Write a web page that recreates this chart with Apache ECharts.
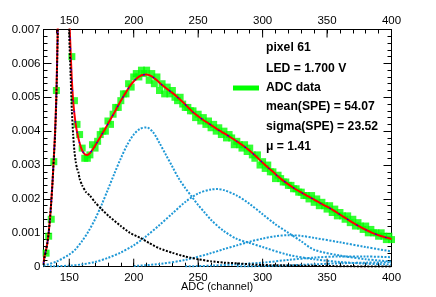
<!DOCTYPE html>
<html><head><meta charset="utf-8">
<script src="https://cdn.jsdelivr.net/npm/echarts@6/dist/echarts.min.js"></script>
<style>html,body{margin:0;padding:0;background:#fff}#c{width:436px;height:297px}</style>
</head><body><div id="c"></div>
<script>
// ---- data ----
const xTickLabels = [150, 200, 250, 300, 350, 400];
const xTitle = 'ADC (channel)';
const adcX = [132,134,136,138,140,142,144,146,148,150,152,154,156,158,160,162,164,166,168,170,172,174,176,178,180,182,184,186,188,190,192,194,196,198,200,202,204,206,208,210,212,214,216,218,220,222,224,226,228,230,232,234,236,238,240,242,244,246,248,250,252,254,256,258,260,262,264,266,268,270,272,274,276,278,280,282,284,286,288,290,292,294,296,298,300,302,304,306,308,310,312,314,316,318,320,322,324,326,328,330,332,334,336,338,340,342,344,346,348,350,352,354,356,358,360,362,364,366,368,370,372,374,376,378,380,382,384,386,388,390,392,394,396,398,400];
const adcY = [0.0004,0.0009,0.0014,0.0031,0.0052,0.0095,0.016,0.018,0.013,0.0075,0.0062,0.0049,0.0042,0.0039,0.0035,0.0032,0.0032,0.0033,0.0036,0.0035,0.0037,0.0039,0.0040,0.0040,0.0043,0.0042,0.0045,0.0047,0.0047,0.0049,0.0051,0.0051,0.0054,0.0053,0.0056,0.0057,0.0056,0.0058,0.0057,0.0058,0.0055,0.0057,0.0054,0.0056,0.0052,0.0054,0.0051,0.0053,0.0051,0.0052,0.0050,0.0049,0.0050,0.0048,0.0047,0.0047,0.0046,0.0046,0.0044,0.0045,0.0043,0.0044,0.0042,0.0043,0.0041,0.0042,0.0040,0.0041,0.0039,0.0040,0.0038,0.0039,0.0038,0.0036,0.0037,0.0036,0.0035,0.0036,0.0034,0.0035,0.0033,0.0032,0.0033,0.0030,0.0031,0.0029,0.0030,0.0028,0.0028,0.0026,0.0027,0.0026,0.0025,0.0025,0.0024,0.0024,0.0023,0.0023,0.0022,0.0022,0.0021,0.0021,0.0020,0.0021,0.0019,0.0020,0.0018,0.0019,0.0018,0.0017,0.0018,0.0016,0.0017,0.0015,0.0016,0.0015,0.0014,0.0015,0.0013,0.0014,0.0012,0.0013,0.0012,0.0011,0.0012,0.0010,0.0011,0.0010,0.0010,0.0009,0.0010,0.0009,0.0008,0.0009,0.0008];

const fitX = [130,131,132,133,134,135,136,137,138,139,140,141,142,143,145,147,148,149,150,151,152,153,154,155,156,158,160,162,164,166,168,170,174,178,182,186,190,194,198,202,206,210,214,218,222,226,230,234,238,242,246,250,254,258,262,266,270,275,280,285,290,295,300,305,310,315,320,325,330,335,340,345,350,355,360,365,370,375,380,385,390,395,400];
const fitY = [0.0001,0.00035,0.0005,0.0007,0.001,0.0014,0.0019,0.0025,0.0032,0.004,0.0051,0.0069,0.0091,0.013,0.02,0.018,0.0135,0.01,0.0074,0.0064,0.0055,0.0049,0.0045,0.0042,0.00398,0.00365,0.00343,0.00332,0.0033,0.00335,0.00345,0.00357,0.00382,0.00408,0.00435,0.00462,0.0049,0.00515,0.00538,0.00555,0.00565,0.00567,0.00562,0.0055,0.00536,0.00524,0.00513,0.005,0.00486,0.00471,0.00456,0.00444,0.00433,0.00423,0.00413,0.00403,0.00394,0.00382,0.0037,0.00357,0.00342,0.00325,0.00307,0.0029,0.00273,0.00257,0.00243,0.0023,0.00219,0.00208,0.00198,0.00187,0.00177,0.00166,0.00154,0.00142,0.0013,0.00119,0.00109,0.001,0.00093,0.00087,0.00082];

const pedX = [130,131,132,133,134,135,136,137,138,139,140,141,142,143,145,147,148,149,150,151,152,153,154,155,156,157,158,160,163,166,170,175,181,190,197,205,212,220,230,240,250,260,270,280,290,300,315,330,350,370,400];
const pedY = [0.00005,0.0003,0.0005,0.0007,0.001,0.0014,0.0019,0.0025,0.0032,0.0039,0.005,0.0068,0.009,0.013,0.02,0.018,0.013,0.0095,0.0068,0.0057,0.0046,0.0039,0.0034,0.0031,0.0029,0.0028,0.0026,0.0024,0.0022,0.0021,0.0019,0.0017,0.00148,0.0012,0.001,0.00085,0.0007,0.00054,0.00041,0.0003,0.00022,0.00016,0.00012,0.0001,0.00007,0.00005,0.00004,0.00003,0.00002,0.00001,0.000005];

const pe1X = [130,140,150,155,160,165,170,175,180,185,190,195,200,205,210,215,220,225,230,235,240,245,250,255,260,270,280,290,300,320,340,360,380,400];
const pe1Y = [0.00003,0.00015,0.00036,0.00052,0.00076,0.00105,0.0014,0.00182,0.00228,0.00275,0.0032,0.0036,0.0039,0.00407,0.00411,0.00397,0.00365,0.0033,0.00295,0.0026,0.00232,0.00207,0.00182,0.0016,0.00138,0.00105,0.00082,0.0007,0.00058,0.00035,0.00022,0.00014,0.00009,0.00006];
const pe2X = [135,150,160,170,180,190,200,210,220,230,240,250,260,265,270,280,290,300,310,320,330,340,360,380,400];
const pe2Y = [0.00001,0.00003,0.00007,0.00014,0.00026,0.00042,0.00063,0.00091,0.00123,0.00157,0.00191,0.00216,0.00228,0.00229,0.00226,0.0021,0.00185,0.00155,0.00125,0.001,0.00075,0.0005,0.00033,0.00022,0.00015];
const pe3X = [200,220,240,260,270,280,290,300,310,320,330,340,360,380,400];
const pe3Y = [0.00002,0.00008,0.0002,0.0004,0.00052,0.00063,0.00074,0.00083,0.0009,0.00093,0.00091,0.00085,0.00072,0.00058,0.00045];
const pe4X = [240,260,280,300,320,340,360,380,400];
const pe4Y = [0.00001,0.00003,0.00007,0.00012,0.0002,0.00027,0.0003,0.0003,0.00028];
const pe5X = [280,300,320,340,360,380,400];
const pe5Y = [0.00001,0.00002,0.00004,0.00007,0.0001,0.00012,0.00013];

const legendLines = ['pixel 61', 'LED = 1.700 V', 'ADC data', 'mean(SPE) = 54.07', 'sigma(SPE) = 23.52', 'μ = 1.41'];

// ---- helpers ----
const pairs = (xs, ys) => xs.map((x, i) => [x, ys[i]]);
const cyan = '#1f98d6';
const cyanSeries = (xs, ys) => ({
  type: 'line', data: pairs(xs, ys), showSymbol: false, smooth: 0.3, z: 3,
  lineStyle: { color: cyan, width: 2, type: [2, 1.5] }
});
const FONT = 'Liberation Sans, Arial, Helvetica, sans-serif';
const YMIN = 0, YMAX = 0.007;

const chart = echarts.init(document.getElementById('c'), null, { renderer: 'canvas' });
const xAxisBase = {
  type: 'value', min: 130, max: 400, interval: 10,
  axisLine: { show: true, onZero: false, lineStyle: { color: '#000', width: 1 } },
  axisTick: { show: true, inside: true, length: 4, lineStyle: { color: '#000', width: 1 } },
  splitLine: { show: false },
  axisLabel: {
    color: '#000', fontSize: 11.5, fontFamily: FONT,
    formatter: v => (Math.abs(v % 50) < 1e-6 ? String(Math.round(v)) : '')
  }
};
const yAxisBase = {
  type: 'value', min: YMIN, max: YMAX, interval: 0.001,
  axisLine: { show: true, onZero: false, lineStyle: { color: '#000', width: 1 } },
  axisTick: { show: true, inside: true, length: 8, lineStyle: { color: '#000', width: 1 } },
  minorTick: { show: true, splitNumber: 5, length: 4, lineStyle: { color: '#000', width: 1 } },
  splitLine: { show: false }, minorSplitLine: { show: false }
};

const graphics = [];
const legendY = [48, 69, 88, 107, 127, 147];
legendLines.forEach((t, i) => {
  graphics.push({ type: 'text', x: 266, y: legendY[i], z: 100,
    style: { text: t, fill: '#000', font: 'bold 12.2px ' + FONT, verticalAlign: 'middle', align: 'left' } });
});
graphics.push({ type: 'line', z: 100, shape: { x1: 233, y1: 88, x2: 259, y2: 88 }, style: { stroke: '#00ff00', lineWidth: 5 } });
graphics.push({ type: 'text', x: 217, y: 286.5, z: 100,
  style: { text: xTitle, fill: '#000', font: '11px ' + FONT, verticalAlign: 'middle', align: 'center' } });

chart.setOption({
  animation: false,
  backgroundColor: '#fff',
  grid: { left: 43.5, right: 44.5, top: 29.5, bottom: 30.3, containLabel: false, outerBoundsMode: 'none' },
  xAxis: [
    Object.assign({}, xAxisBase, { position: 'bottom',
      axisLabel: Object.assign({}, xAxisBase.axisLabel, { margin: 5 }) }),
    Object.assign({}, xAxisBase, { position: 'top', axisLabel: Object.assign({}, xAxisBase.axisLabel, { margin: 3 }) })
  ],
  yAxis: [
    Object.assign({}, yAxisBase, { position: 'left', axisLabel: { color: '#000', fontSize: 11.5, fontFamily: FONT, margin: 3,
      formatter: v => (v === 0 ? '0' : v.toFixed(3)) } }),
    Object.assign({}, yAxisBase, { position: 'right', axisLabel: { show: false } })
  ],
  graphic: graphics,
  series: [
    { type: 'scatter', data: pairs(adcX, adcY), symbol: 'rect', symbolSize: 7, z: 2,
      itemStyle: { color: '#00ff00' }, clip: true },
    cyanSeries(pe1X, pe1Y),
    cyanSeries(pe2X, pe2Y),
    cyanSeries(pe3X, pe3Y),
    cyanSeries(pe4X, pe4Y),
    cyanSeries(pe5X, pe5Y),
    { type: 'line', data: pairs(fitX, fitY), showSymbol: false, smooth: 0.2, z: 4, clip: true,
      lineStyle: { color: '#ff0000', width: 2 } },
    { type: 'line', data: pairs(fitX, fitY), showSymbol: false, smooth: 0.2, z: 5, clip: true,
      lineStyle: { color: '#0000ff', width: 1.2, type: [1.5, 9] } },
    { type: 'line', data: pairs(pedX, pedY), showSymbol: false, smooth: 0.2, z: 6, clip: true,
      lineStyle: { color: '#000', width: 2, type: [2, 1.5] } },
    { type: 'custom', z: 10, clip: false, silent: true,
      data: xTickLabels.map(v => [v, YMIN]),
      renderItem: (params, api) => {
        const x = api.value(0);
        const pb = api.coord([x, YMIN]);
        const pt = api.coord([x, YMAX]);
        const s = { stroke: '#000', lineWidth: 1 };
        return { type: 'group', children: [
          { type: 'line', shape: { x1: pb[0], y1: pb[1], x2: pb[0], y2: pb[1] - 8 }, style: s },
          { type: 'line', shape: { x1: pt[0], y1: pt[1], x2: pt[0], y2: pt[1] + 8 }, style: s }
        ] };
      } }
  ]
});
</script></body></html>
